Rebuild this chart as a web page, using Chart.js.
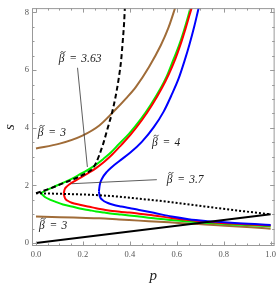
<!DOCTYPE html>
<html>
<head>
<meta charset="utf-8">
<script src="https://cdn.jsdelivr.net/npm/chart.js@4.4.1/dist/chart.umd.min.js"></script>
<style>
  html, body { margin: 0; padding: 0; background: #fff; }
  #chart { display: block; }
</style>
</head>
<body>
<canvas id="chart" width="280" height="286"></canvas>
<script>
// ticks
const xTicks = [0, 0.2, 0.4, 0.6, 0.8, 1.0];
const yTicks = [0, 2, 4, 6, 8];

// beta = 3 (brown), two branches
const brownUpP = [0, 0.101, 0.198, 0.27, 0.333, 0.384, 0.426, 0.481, 0.532, 0.565, 0.595, 0.603];
const brownUpS = [3.28, 3.45, 3.73, 4.08, 4.58, 5.02, 5.42, 6.10, 6.86, 7.48, 8.21, 8.41];
const brownLoP = [0, 0.101, 0.186, 0.27, 0.354, 0.439, 0.523, 0.608, 0.692, 0.776, 0.861, 0.932, 1.0];
const brownLoS = [0.92, 0.90, 0.88, 0.86, 0.82, 0.78, 0.74, 0.70, 0.66, 0.62, 0.58, 0.54, 0.50];

// beta = 3.63 (green), cusp near p = 0.02
const greenUpP = [0.021, 0.038, 0.059, 0.084, 0.115, 0.152, 0.186, 0.219, 0.256, 0.287, 0.319, 0.354,
                  0.397, 0.446, 0.489, 0.530, 0.557, 0.586, 0.608, 0.629, 0.650, 0.660, 0.667];
const greenUpS = [1.73, 1.81, 1.89, 1.98, 2.09, 2.23, 2.38, 2.53, 2.72, 2.92, 3.14, 3.44,
                  3.80, 4.29, 4.80, 5.35, 5.78, 6.37, 6.82, 7.33, 7.91, 8.21, 8.38];
const greenLoP = [0.021, 0.038, 0.059, 0.084, 0.115, 0.152, 0.186, 0.228, 0.256, 0.291, 0.326, 0.363,
                  0.397, 0.439, 0.511, 0.578, 0.65, 0.722, 0.789, 0.861, 0.932, 1.0];
const greenLoS = [1.73, 1.60, 1.51, 1.43, 1.34, 1.27, 1.20, 1.14, 1.10, 1.06, 1.02, 0.99,
                  0.96, 0.92, 0.85, 0.80, 0.75, 0.71, 0.67, 0.64, 0.61, 0.58];

// beta = 3.7 (red), nose near p = 0.12
const redUpP = [0.118, 0.122, 0.131, 0.143, 0.165, 0.186, 0.219, 0.256, 0.291, 0.326, 0.363, 0.405,
                0.451, 0.494, 0.536, 0.565, 0.594, 0.616, 0.637, 0.658, 0.671];
const redUpS = [1.71, 1.86, 1.96, 2.04, 2.15, 2.25, 2.41, 2.60, 2.82, 3.08, 3.40, 3.78,
                4.26, 4.78, 5.37, 5.84, 6.39, 6.89, 7.43, 8.01, 8.34];
const redLoP = [0.118, 0.124, 0.135, 0.152, 0.186, 0.228, 0.256, 0.291, 0.326, 0.363, 0.397, 0.439,
                0.511, 0.578, 0.65, 0.722, 0.789, 0.861, 0.932, 1.0];
const redLoS = [1.71, 1.55, 1.47, 1.40, 1.33, 1.26, 1.21, 1.16, 1.11, 1.08, 1.06, 1.02,
                0.95, 0.87, 0.80, 0.74, 0.70, 0.67, 0.64, 0.61];

// beta = 4 (blue), nose near p = 0.27
const blueUpP = [0.268, 0.272, 0.283, 0.302, 0.325, 0.354, 0.401, 0.451, 0.502, 0.544, 0.578, 0.608,
                 0.633, 0.654, 0.675, 0.692, 0.698];
const blueUpS = [1.79, 2.03, 2.26, 2.47, 2.65, 2.84, 3.13, 3.51, 4.02, 4.56, 5.14, 5.71,
                 6.32, 6.89, 7.53, 8.11, 8.31];
const blueLoP = [0.268, 0.272, 0.283, 0.304, 0.329, 0.363, 0.397, 0.439, 0.502, 0.578, 0.65, 0.722,
                 0.789, 0.861, 0.932, 1.0];
const blueLoS = [1.79, 1.62, 1.50, 1.40, 1.33, 1.27, 1.22, 1.15, 1.05, 0.92, 0.83, 0.77,
                 0.73, 0.69, 0.66, 0.63];

// black curves
const dashP = [0, 0.059, 0.114, 0.169, 0.219, 0.241, 0.257, 0.27, 0.287, 0.306, 0.323, 0.338,
               0.352, 0.363, 0.37, 0.376, 0.379, 0.381];
const dashS = [1.73, 1.89, 2.07, 2.25, 2.45, 2.58, 2.80, 3.06, 3.46, 4.00, 4.49, 5.03,
               5.68, 6.35, 7.03, 7.70, 8.21, 8.41];
const dotP = [0, 0.101, 0.186, 0.27, 0.354, 0.439, 0.523, 0.608, 0.692, 0.776, 0.861, 0.932, 1.0];
const dotS = [1.73, 1.71, 1.69, 1.66, 1.61, 1.54, 1.47, 1.39, 1.30, 1.21, 1.13, 1.06, 1.0];
const lineP = [0, 1];
const lineS = [0, 1];

function toPoints(ps, ss) {
    return ps.map((p, i) => ({ x: p, y: ss[i] }));
}

function curve(ps, ss, color, extra) {
    return Object.assign({
        data: toPoints(ps, ss),
        showLine: true,
        borderColor: color,
        borderWidth: 2,
        pointRadius: 0,
        cubicInterpolationMode: "monotone",
        fill: false,
    }, extra || {});
}

const BROWN = "rgb(160,108,56)";
const GREEN = "rgb(0,240,0)";
const RED = "rgb(255,0,0)";
const BLUE = "rgb(0,0,255)";

const serif = "'Liberation Serif', 'DejaVu Serif', serif";

// frame with inward ticks on all four sides
const frameTicks = {
    id: "frameTicks",
    afterDatasetsDraw(chart) {
        const { ctx, chartArea: a, scales: { x, y } } = chart;
        ctx.save();
        ctx.strokeStyle = "#999";
        ctx.lineWidth = 1;
        ctx.strokeRect(a.left + 0.5, a.top + 0.5, a.right - a.left - 1, a.bottom - a.top - 1);
        ctx.beginPath();
        for (let i = 0; i <= 20; i++) {
            const len = (i % 4 === 0) ? 4.5 : 2.5;
            const px = Math.round(x.getPixelForValue(i * 0.05)) + 0.5;
            ctx.moveTo(px, a.bottom); ctx.lineTo(px, a.bottom - len);
            ctx.moveTo(px, a.top); ctx.lineTo(px, a.top + len);
        }
        for (let i = 0; i <= 16; i++) {
            const len = (i % 4 === 0) ? 4.5 : 2.5;
            const py = Math.round(y.getPixelForValue(i * 0.5)) + 0.5;
            ctx.moveTo(a.left, py); ctx.lineTo(a.left + len, py);
            ctx.moveTo(a.right, py); ctx.lineTo(a.right - len, py);
        }
        ctx.stroke();
        ctx.restore();
    },
};

// beta-tilde labels and pointer lines
const betaLabels = {
    id: "betaLabels",
    afterDatasetsDraw(chart) {
        const { ctx, scales: { x, y } } = chart;
        const labels = [
            { value: "3.63", p: 0.097, s: 6.28 },
            { value: "3", p: 0.008, s: 3.72 },
            { value: "4", p: 0.494, s: 3.38 },
            { value: "3.7", p: 0.557, s: 2.09 },
            { value: "3", p: 0.013, s: 0.50 },
        ];
        const pointers = [
            [0.177, 6.08, 0.219, 2.64],
            [0.152, 2.06, 0.515, 2.2],
        ];
        ctx.save();
        ctx.strokeStyle = "#333";
        ctx.lineWidth = 0.8;
        pointers.forEach(([p1, s1, p2, s2]) => {
            ctx.beginPath();
            ctx.moveTo(x.getPixelForValue(p1), y.getPixelForValue(s1));
            ctx.lineTo(x.getPixelForValue(p2), y.getPixelForValue(s2));
            ctx.stroke();
        });
        ctx.fillStyle = "#222";
        ctx.strokeStyle = "#222";
        ctx.font = "italic 11.5px " + serif;
        ctx.textAlign = "left";
        ctx.textBaseline = "alphabetic";
        labels.forEach((l) => {
            const x0 = x.getPixelForValue(l.p);
            const y0 = y.getPixelForValue(l.s);
            ctx.fillText("\u03B2", x0, y0);
            ctx.fillText("=", x0 + 10.5, y0);
            ctx.fillText(l.value, x0 + 22.5, y0);
            // tilde over beta
            const cx = x0 + 4.2, cy = y0 - 10;
            ctx.lineWidth = 0.8;
            ctx.beginPath();
            ctx.moveTo(cx - 2.4, cy + 0.8);
            ctx.bezierCurveTo(cx - 1.6, cy - 1.0, cx - 0.6, cy - 0.6, cx, cy);
            ctx.bezierCurveTo(cx + 0.6, cy + 0.6, cx + 1.6, cy + 1.0, cx + 2.4, cy - 0.8);
            ctx.stroke();
        });
        ctx.restore();
    },
};

new Chart(document.getElementById("chart"), {
    type: "scatter",
    data: {
        datasets: [
            curve(lineP, lineS, "#000", { cubicInterpolationMode: "default", tension: 0 }),
            curve(dashP, dashS, "#000", { borderDash: [5, 3] }),
            curve(dotP, dotS, "#000", { borderDash: [2, 2] }),
            curve(blueUpP, blueUpS, BLUE),
            curve(blueLoP, blueLoS, BLUE),
            curve(redUpP, redUpS, RED),
            curve(redLoP, redLoS, RED),
            curve(greenUpP, greenUpS, GREEN),
            curve(greenLoP, greenLoS, GREEN),
            curve(brownUpP, brownUpS, BROWN),
            curve(brownLoP, brownLoS, BROWN),
        ],
    },
    options: {
        responsive: false,
        animation: false,
        layout: { padding: { top: 2, right: 3, left: 0, bottom: 0 } },
        plugins: {
            legend: { display: false },
            tooltip: { enabled: false },
        },
        scales: {
            x: {
                type: "linear",
                min: -0.017,
                max: 1.017,
                afterBuildTicks: (scale) => {
                    scale.ticks = xTicks.map((v) => ({ value: v }));
                },
                afterFit: (scale) => {
                    scale.height = 40;
                },
                grid: { display: false, drawTicks: false },
                border: { display: false },
                ticks: {
                    autoSkip: false,
                    maxRotation: 0,
                    padding: 4,
                    color: "#555",
                    font: { family: serif, size: 8.5 },
                    callback: (v) => v.toFixed(1),
                },
                title: {
                    display: true,
                    text: "p",
                    color: "#222",
                    font: { family: serif, size: 15, style: "italic" },
                    padding: { top: 0, bottom: 1 },
                },
            },
            y: {
                type: "linear",
                min: -0.1,
                max: 8.15,
                afterBuildTicks: (scale) => {
                    scale.ticks = yTicks.map((v) => ({ value: v }));
                },
                afterFit: (scale) => {
                    scale.width = 32;
                },
                grid: { display: false, drawTicks: false },
                border: { display: false },
                ticks: {
                    autoSkip: false,
                    padding: 3,
                    color: "#555",
                    font: { family: serif, size: 8.5 },
                    callback: (v) => String(v),
                },
                title: {
                    display: true,
                    text: "s",
                    color: "#222",
                    font: { family: serif, size: 15, style: "italic" },
                    padding: { top: 1, bottom: 0 },
                },
            },
        },
    },
    plugins: [frameTicks, betaLabels],
});
</script>
</body>
</html>
